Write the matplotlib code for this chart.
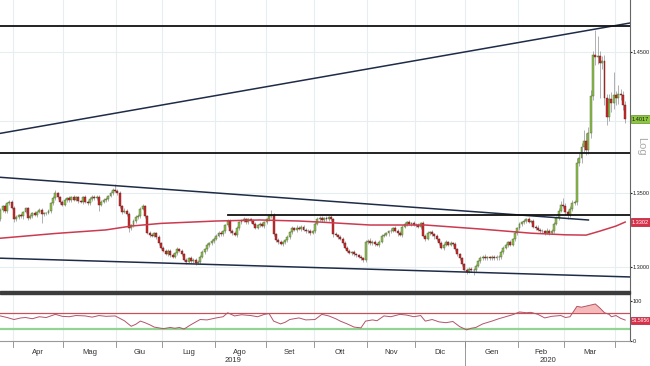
import numpy as np
import pandas as pd
import matplotlib
matplotlib.use("Agg")
import matplotlib.pyplot as plt
import matplotlib.transforms as mtransforms
from matplotlib import font_manager
from matplotlib.patches import Rectangle
from matplotlib.ticker import NullLocator

# daily candles, business days from this date
start_date = "2019-03-22"
first_open = 1.3320
closes = [
    1.3385, 1.3410, 1.3375, 1.3430, 1.3440, 1.3400, 1.3320, 1.3335, 1.3350, 1.3340,
    1.3370, 1.3395, 1.3330, 1.3345, 1.3365, 1.3350, 1.3370, 1.3385, 1.3355, 1.3360,
    1.3365, 1.3380, 1.3430, 1.3465, 1.3500, 1.3470, 1.3440, 1.3420, 1.3450, 1.3465,
    1.3450, 1.3470, 1.3455, 1.3470, 1.3445, 1.3440, 1.3470, 1.3440, 1.3430, 1.3460,
    1.3475, 1.3465, 1.3475, 1.3420, 1.3440, 1.3450, 1.3460, 1.3480, 1.3500, 1.3520,
    1.3515, 1.3500, 1.3410, 1.3370, 1.3380, 1.3355, 1.3260, 1.3280, 1.3310, 1.3335,
    1.3345, 1.3390, 1.3410, 1.3340, 1.3230, 1.3215, 1.3210, 1.3225, 1.3200, 1.3160,
    1.3130, 1.3110, 1.3090, 1.3110, 1.3080, 1.3070, 1.3095, 1.3120, 1.3110, 1.3085,
    1.3050, 1.3035, 1.3060, 1.3040, 1.3050, 1.3030, 1.3035, 1.3070, 1.3100, 1.3120,
    1.3145, 1.3160, 1.3175, 1.3190, 1.3210, 1.3230, 1.3220, 1.3240, 1.3280, 1.3310,
    1.3240, 1.3230, 1.3215, 1.3260, 1.3300, 1.3310, 1.3320, 1.3300, 1.3320, 1.3310,
    1.3290, 1.3265, 1.3280, 1.3290, 1.3275, 1.3300, 1.3320, 1.3340, 1.3350, 1.3220,
    1.3180, 1.3170, 1.3155, 1.3165, 1.3180, 1.3200, 1.3235, 1.3260, 1.3250, 1.3265,
    1.3255, 1.3270, 1.3250, 1.3240, 1.3245, 1.3230, 1.3240, 1.3290, 1.3320, 1.3330,
    1.3315, 1.3330, 1.3320, 1.3335, 1.3320, 1.3220, 1.3215, 1.3200, 1.3190, 1.3160,
    1.3130, 1.3110, 1.3095, 1.3100, 1.3085, 1.3080, 1.3070, 1.3060, 1.3045, 1.3165,
    1.3175, 1.3160, 1.3170, 1.3155, 1.3150, 1.3170, 1.3210, 1.3215, 1.3225, 1.3240,
    1.3245, 1.3260, 1.3245, 1.3225, 1.3215, 1.3270, 1.3290, 1.3300, 1.3290, 1.3295,
    1.3285, 1.3280, 1.3270, 1.3295, 1.3210, 1.3190, 1.3225, 1.3235, 1.3220, 1.3205,
    1.3185, 1.3160, 1.3130, 1.3150, 1.3165, 1.3150, 1.3160, 1.3155, 1.3120, 1.3085,
    1.3060, 1.3020, 1.2985, 1.2970, 1.2990, 1.2985, 1.2980, 1.3010, 1.3040, 1.3060,
    1.3070, 1.3060, 1.3065, 1.3060, 1.3070, 1.3060, 1.3070, 1.3065, 1.3100, 1.3130,
    1.3150, 1.3165, 1.3150, 1.3185, 1.3230, 1.3260, 1.3290, 1.3300, 1.3310, 1.3320,
    1.3305, 1.3310, 1.3270, 1.3265, 1.3250, 1.3240, 1.3240, 1.3230, 1.3245, 1.3230,
    1.3245, 1.3290, 1.3330, 1.3380, 1.3420, 1.3410, 1.3370, 1.3350, 1.3390, 1.3430,
    1.3440, 1.3710, 1.3740, 1.3820, 1.3860, 1.3800, 1.3920, 1.4180, 1.4480, 1.4465,
    1.4470, 1.4420, 1.4440, 1.4168, 1.4030, 1.4160, 1.4130, 1.4190, 1.4170, 1.4200,
    1.4190, 1.4120, 1.4017,
]
# wick length beyond the body, in pips
wick_up = [
    12, 8, 15, 10, 9, 14, 10, 12, 8, 15, 10, 12, 9, 14, 8, 12, 10, 15, 9, 11,
    8, 12, 10, 14, 18, 9, 12, 10, 14, 9, 12, 10, 15, 8, 12, 10, 9, 14, 11, 10,
    12, 8, 10, 9, 12, 14, 10, 9, 12, 15, 45, 10, 12, 9, 14, 10, 12, 9, 10, 14,
    10, 12, 15, 9, 10, 12, 14, 10, 9, 12, 10, 14, 9, 12, 10, 15, 9, 12, 10, 14,
    9, 12, 10, 14, 9, 12, 10, 9, 12, 10, 14, 10, 12, 9, 10, 12, 14, 10, 12, 15,
    10, 12, 9, 14, 10, 12, 15, 9, 12, 10, 14, 9, 12, 10, 14, 9, 12, 10, 34, 12,
    10, 14, 9, 12, 10, 14, 9, 12, 10, 14, 12, 9, 14, 10, 12, 9, 10, 12, 14, 10,
    12, 9, 14, 10, 12, 10, 14, 9, 12, 10, 12, 9, 14, 10, 12, 9, 10, 12, 9, 14,
    12, 18, 10, 14, 9, 12, 10, 14, 12, 10, 14, 9, 12, 10, 14, 9, 12, 10, 14, 9,
    12, 10, 14, 9, 12, 10, 14, 9, 12, 10, 14, 9, 12, 10, 14, 9, 12, 10, 14, 9,
    12, 10, 9, 12, 10, 14, 9, 12, 10, 14, 9, 16, 12, 10, 14, 9, 12, 10, 14, 9,
    12, 10, 14, 9, 12, 10, 14, 9, 12, 10, 14, 9, 12, 10, 14, 9, 12, 10, 14, 9,
    12, 10, 14, 18, 25, 46, 20, 14, 18, 25, 15, 30, 40, 25, 82, 60, 40, 45, 30, 187,
    150, 40, 30, 40, 30, 40, 50, 167, 30, 62, 35, 30, 25,
]
wick_dn = [
    10, 12, 9, 14, 10, 12, 15, 9, 12, 10, 14, 9, 12, 10, 14, 9, 12, 10, 60, 9,
    12, 10, 14, 9, 12, 10, 14, 9, 12, 10, 14, 9, 12, 10, 14, 9, 12, 10, 14, 9,
    12, 10, 14, 40, 12, 10, 9, 12, 10, 14, 9, 12, 10, 14, 9, 12, 25, 10, 9, 12,
    10, 14, 9, 12, 10, 14, 9, 12, 10, 14, 9, 12, 10, 14, 9, 12, 10, 14, 9, 12,
    10, 14, 9, 12, 10, 18, 9, 12, 10, 14, 9, 12, 10, 14, 9, 12, 10, 14, 9, 12,
    10, 14, 9, 12, 10, 14, 9, 12, 10, 14, 9, 12, 10, 14, 9, 12, 10, 14, 9, 12,
    10, 14, 9, 12, 10, 14, 9, 12, 10, 14, 9, 12, 10, 14, 9, 12, 10, 14, 9, 12,
    10, 14, 9, 12, 10, 20, 9, 12, 10, 14, 9, 12, 10, 14, 9, 12, 10, 14, 9, 12,
    10, 14, 9, 12, 10, 14, 9, 12, 10, 14, 9, 12, 10, 14, 9, 12, 10, 14, 9, 12,
    10, 14, 9, 12, 10, 14, 9, 12, 10, 14, 9, 12, 10, 14, 9, 12, 10, 14, 9, 12,
    10, 14, 9, 12, 10, 14, 30, 12, 10, 14, 9, 12, 10, 14, 9, 12, 10, 14, 9, 12,
    10, 14, 9, 12, 10, 14, 9, 12, 10, 14, 9, 12, 10, 14, 9, 12, 10, 14, 9, 12,
    10, 14, 9, 12, 10, 14, 20, 30, 14, 12, 15, 20, 25, 30, 35, 40, 30, 40, 30, 60,
    50, 252, 40, 50, 55, 30, 60, 40, 50, 45, 40, 35, 30,
]

# moving average, read at a few candle positions
ma_idx = [0, 24, 46, 57, 70, 94, 113, 130, 139, 161, 185, 209, 231, 246, 255, 261, 268, 272]
ma_val = [1.3193, 1.3225, 1.3249, 1.3275, 1.3293, 1.3309, 1.3316, 1.3309, 1.3302, 1.3282,
          1.3282, 1.3255, 1.3227, 1.3216, 1.3214, 1.3241, 1.3275, 1.3302]

# RSI, read at candle positions
rsi_idx = [0, 3, 6, 9, 11, 14, 17, 20, 24, 27, 30, 33, 37, 40, 43, 46, 50, 54, 57, 59,
           61, 63, 65, 67, 71, 74, 76, 78, 80, 83, 87, 90, 94, 97, 99, 102, 105, 109, 112,
           115, 117, 119, 122, 124, 126, 130, 133, 137, 140, 143, 146, 148, 151, 154, 157,
           159, 162, 164, 167, 170, 174, 177, 180, 183, 185, 188, 191, 194, 197, 200, 203,
           205, 207, 210, 214, 217, 220, 223, 226, 229, 231, 234, 237, 240, 244, 246, 248,
           251, 253, 256, 259, 261, 263, 265, 266, 268, 270, 272]
rsi_val = [62, 58, 53, 57, 58, 55, 60, 58, 66, 61, 60, 63, 62, 59, 63, 61, 62, 50, 36, 41,
           49, 45, 40, 34, 30, 33, 31, 33, 29, 40, 53, 52, 57, 60, 70, 62, 65, 63, 60,
           66, 68, 49, 42, 46, 53, 57, 52, 53, 66, 62, 55, 49, 42, 34, 32,
           49, 52, 50, 62, 60, 66, 64, 60, 63, 49, 53, 47, 45, 48, 35, 27,
           31, 33, 42, 49, 55, 60, 65, 72, 70, 71, 66, 57, 61, 63, 58, 60,
           86, 84, 88, 92, 82, 70, 66, 60, 63, 56, 51.5956]

month_names = ["Apr", "Mag", "Giu", "Lug", "Ago", "Set", "Ott", "Nov", "Dic", "Gen", "Feb", "Mar"]
year_names = ["2019", "2020"]
price_ticks = [1.30, 1.35, 1.45]
price_grid = [1.30, 1.35, 1.40, 1.45]

# drawn lines: (index, price) end points
trend_up = [(-0.1, 1.3915), (274.1, 1.4718)]
channel_top = [(0, 1.3608), (256, 1.3316)]
channel_bot = [(-0.1, 1.3060), (274.1, 1.2936)]
levels = [(-0.1, 274.1, 1.4695), (-0.1, 274.1, 1.3780), (99, 274.1, 1.3353)]

names = {f.name for f in font_manager.fontManager.ttflist}
for fam in ("Liberation Sans Narrow", "Liberation Sans", "DejaVu Sans"):
    if fam in names:
        plt.rcParams["font.family"] = fam
        break

closes = np.array(closes)
opens = np.concatenate([[first_open], closes[:-1]])
highs = np.maximum(opens, closes) + np.array(wick_up) * 1e-4
lows = np.minimum(opens, closes) - np.array(wick_dn) * 1e-4
xs = np.arange(len(closes))
dates = pd.bdate_range(start_date, periods=len(closes))
bounds = np.flatnonzero(dates.month[1:] != dates.month[:-1]) + 1
year_b = bounds[dates.month[bounds] == 1][0]
xmin, xmax = -0.1, 274.1

W, H = 650, 366
fig = plt.figure(figsize=(6.5, 3.66), dpi=100)
ax = fig.add_axes([0, 1 - 291 / H, 630 / W, 291 / H])
axr = fig.add_axes([0, 1 - 341 / H, 630 / W, 46 / H])

grid_c = "#e8edf2"
for a in (ax, axr):
    for b in bounds:
        a.axvline(b - 0.5, color=grid_c, lw=0.8, zorder=0)
    a.set_xlim(xmin, xmax)
    a.set_xticks([])
    for s in ("top", "left"):
        a.spines[s].set_visible(False)
    a.spines["right"].set_color("#666666")
    a.spines["right"].set_linewidth(0.8)

# main price panel
ax.set_yscale("log")
ax.set_ylim(1.2844, 1.4891)
for p in price_grid:
    ax.axhline(p, color=grid_c, lw=0.8, zorder=0)
ax.spines["bottom"].set_visible(False)

up = closes >= opens
ax.vlines(xs, lows, highs, color="#a3a3a3", lw=0.6, zorder=2)
ax.bar(xs[up], (closes - opens)[up], bottom=opens[up], width=0.85,
       color="#8fc24a", edgecolor="#4b5e32", linewidth=0.3, zorder=3)
ax.bar(xs[~up], (opens - closes)[~up], bottom=closes[~up], width=0.85,
       color="#d02a2a", edgecolor="#5a2020", linewidth=0.3, zorder=3)

ax.plot(ma_idx, ma_val, color="#cc3a50", lw=1.1, zorder=4)
for line in (trend_up, channel_top, channel_bot):
    ax.plot([line[0][0], line[1][0]], [line[0][1], line[1][1]], color="#1f2c48", lw=1.1, zorder=5)
for x0, x1, p in levels:
    ax.plot([x0, x1], [p, p], color="#111111", lw=1.3, zorder=5)

ax.yaxis.set_minor_locator(NullLocator())
ax.set_yticks(price_ticks, labels=[f"{p:.4f}" for p in price_ticks])
ax.tick_params(axis="y", left=False, labelleft=False, right=True, labelright=True,
               labelsize=4.0, length=1.5, width=0.8, pad=0.5, colors="#222222")

trans = mtransforms.blended_transform_factory(ax.transAxes, ax.transData)
ax.text(1.003, closes[-1], f"{closes[-1]:.4f}", transform=trans, fontsize=4.0, va="center",
        ha="left", color="#1a1a1a", clip_on=False, zorder=6,
        bbox=dict(boxstyle="square,pad=0.25", fc="#8dc63f", ec="#5e8f27", lw=0.5))
ax.text(1.003, ma_val[-1], f"{ma_val[-1]:.4f}", transform=trans, fontsize=4.0, va="center",
        ha="left", color="white", clip_on=False, zorder=6,
        bbox=dict(boxstyle="square,pad=0.25", fc="#d9304a", ec="#a82036", lw=0.5))
fig.text(0.986, 1 - 146 / H, "Log", rotation=270, ha="center", va="center",
         fontsize=8, color="#aaaaaa")

# separator between panels
fig.add_artist(Rectangle((0, 1 - 294 / H), 630 / W, 3 / H, transform=fig.transFigure,
                         color="#3c3c3c", zorder=10))

# RSI panel
axr.set_ylim(-1, 114.6)
axr.axhline(70, color="#c8505a", lw=0.9, zorder=2)
axr.axhline(30, color="#93d393", lw=1.6, zorder=2)
rv = np.array(rsi_val, dtype=float)
axr.fill_between(rsi_idx, 70, rv, where=rv > 70, interpolate=True, color="#f6b9b9", lw=0, zorder=1)
axr.fill_between(rsi_idx, 30, rv, where=rv < 30, interpolate=True, color="#b9e4b9", lw=0, zorder=1)
axr.plot(rsi_idx, rv, color="#b35468", lw=0.7, zorder=3)
axr.spines["bottom"].set_color("#999999")
axr.spines["bottom"].set_linewidth(0.8)
axr.set_yticks([0, 100], labels=["0", "100"])
axr.tick_params(axis="y", left=False, labelleft=False, right=True, labelright=True,
                labelsize=4.0, length=1.5, width=0.8, pad=0.5, colors="#222222")
transr = mtransforms.blended_transform_factory(axr.transAxes, axr.transData)
axr.text(1.003, rv[-1], f"{rv[-1]:.4f}", transform=transr, fontsize=3.6, va="center",
         ha="left", color="white", clip_on=False,
         bbox=dict(boxstyle="square,pad=0.2", fc="#d9304a", ec="#a82036", lw=0.5))

# month and year labels under the RSI panel
tb = mtransforms.blended_transform_factory(axr.transData, axr.transAxes)
for b in bounds:
    axr.plot([b - 0.5, b - 0.5], [0, -0.12], transform=tb, color="#888888", lw=0.6, clip_on=False)
axr.plot([year_b - 0.5, year_b - 0.5], [0, -0.58], transform=tb, color="#888888", lw=0.6, clip_on=False)
for k, name in enumerate(month_names):
    axr.text((bounds[k] + bounds[k + 1]) / 2 - 0.5, -0.25, name, transform=tb, fontsize=5.5,
             ha="center", va="center", color="#333333")
axr.text((xmin + year_b - 0.5) / 2, -0.43, year_names[0], transform=tb, fontsize=5.5,
         ha="center", va="center", color="#333333")
axr.text((year_b - 0.5 + xmax) / 2, -0.43, year_names[1], transform=tb, fontsize=5.5,
         ha="center", va="center", color="#333333")

fig.savefig("out.png", dpi=100)
